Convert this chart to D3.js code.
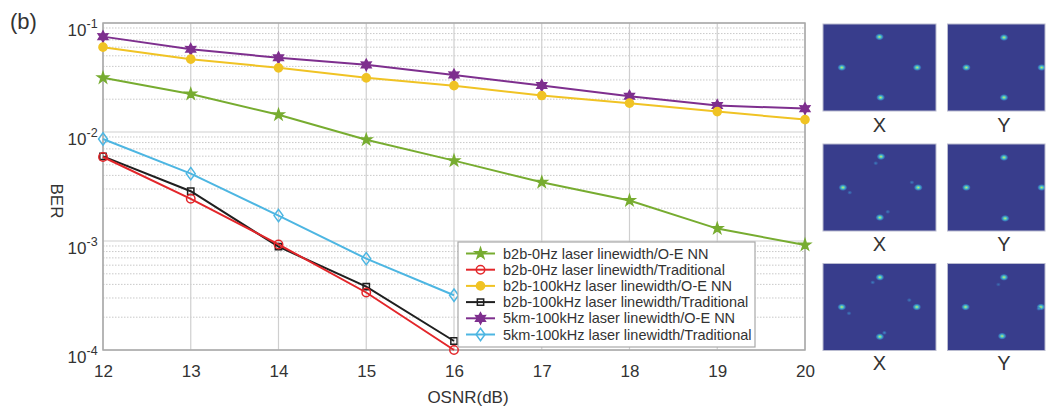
<!DOCTYPE html>
<html>
<head>
<meta charset="utf-8">
<script src="https://cdn.jsdelivr.net/npm/d3@7"></script>
<style>
  body { margin: 0; background: #fff; }
  svg { display: block; }
  text { font-family: "Liberation Sans", Arial, sans-serif; fill: #333; }
</style>
</head>
<body>
<svg id="chart" width="1051" height="409"></svg>
<script>
// ---- data ----
const osnr = [12, 13, 14, 15, 16, 17, 18, 19, 20];
const osnrTicks = [12, 13, 14, 15, 16, 17, 18, 19, 20];
const berTicks = [1e-1, 1e-2, 1e-3, 1e-4];
const berExponents = ["-1", "-2", "-3", "-4"];

const b2b0HzOENN      = [0.0314, 0.0223, 0.0144, 0.0085, 0.00546, 0.00346, 0.00235, 0.0013, 0.00092];
const b2b0HzTrad      = [0.0059, 0.00244, 0.00093, 0.000337, 0.0001];
const b2b100kHzOENN   = [0.060, 0.0466, 0.0388, 0.0314, 0.0266, 0.0216, 0.0184, 0.0154, 0.0130];
const b2b100kHzTrad   = [0.00598, 0.00286, 0.000887, 0.000382, 0.000121];
const km5100kHzOENN   = [0.075, 0.0574, 0.048, 0.0413, 0.0334, 0.0267, 0.0213, 0.0175, 0.0164];
const km5100kHzTrad   = [0.00863, 0.00415, 0.00171, 0.000689, 0.000318];

const seriesNames = [
  "b2b-0Hz laser linewidth/O-E NN",
  "b2b-0Hz laser linewidth/Traditional",
  "b2b-100kHz laser linewidth/O-E NN",
  "b2b-100kHz laser linewidth/Traditional",
  "5km-100kHz laser linewidth/O-E NN",
  "5km-100kHz laser linewidth/Traditional"
];
const seriesValues = [b2b0HzOENN, b2b0HzTrad, b2b100kHzOENN, b2b100kHzTrad, km5100kHzOENN, km5100kHzTrad];

// received constellations (I, Q, strength) for X / Y polarisation, three cases
const constRow1X = [[0, 1.02, 1], [-1, 0, 1], [1, 0, 1], [0.03, -1.0, 1]];
const constRow1Y = [[0, 1.0, 1], [-1.0, 0, 1], [1.0, 0, 1], [0, -1.0, 1]];
const constRow2X = [[0.04, 1.03, 1], [-0.1, 0.81, 0.45], [-0.97, 0, 1], [-0.79, -0.17, 0.45],
                    [1.03, 0, 1], [0.86, 0.17, 0.45], [0.01, -1.0, 1], [0.22, -0.81, 0.45]];
const constRow2Y = [[0, 1.0, 1], [-1, 0, 1], [1, 0, 1], [0.03, -1.03, 1]];
const constRow3X = [[0.01, 0.99, 1], [-0.18, 0.82, 0.45], [-1.0, 0, 1], [-0.81, -0.21, 0.45],
                    [0.99, 0, 1], [0.79, 0.23, 0.45], [0.01, -0.99, 1], [0.13, -0.86, 0.6]];
const constRow3Y = [[0, 0.99, 1], [-0.15, 0.75, 0.3], [-1.02, 0, 1], [0.98, 0, 1],
                    [0.92, -0.06, 0.5], [-0.05, -0.97, 1]];
const constPanels = [constRow1X, constRow1Y, constRow2X, constRow2Y, constRow3X, constRow3Y];
const constLabels = ["X", "Y", "X", "Y", "X", "Y"];

// ---- styles ----
const colors = ["#77ac30", "#e3262a", "#f0c324", "#1f1f1f", "#7e2f8e", "#4db6e2"];
const markerKinds = ["star5", "circleOpen", "circleFill", "squareOpen", "star6", "diamondOpen"];

const svg = d3.select("#chart");

const plotL = 103, plotR = 805, plotT = 23, plotB = 350;
const x = d3.scaleLinear().domain([12, 20]).range([plotL, plotR]);
const y = d3.scaleLog().domain([1e-4, 1e-1]).range([plotB, plotT]);

// grid
const grid = svg.append("g");
const minorVals = [];
[1e-4, 1e-3, 1e-2].forEach(d => { for (let k = 2; k <= 9; k++) minorVals.push(d * k); });
grid.selectAll("line.minor").data(minorVals).enter().append("line")
  .attr("x1", plotL).attr("x2", plotR)
  .attr("y1", d => y(d)).attr("y2", d => y(d))
  .attr("stroke", "#c9c9c9").attr("stroke-width", 1).attr("stroke-dasharray", "1.5,1.5");
grid.selectAll("line.hmaj").data(berTicks).enter().append("line")
  .attr("x1", plotL).attr("x2", plotR)
  .attr("y1", d => y(d)).attr("y2", d => y(d))
  .attr("stroke", "#cfcfcf").attr("stroke-width", 1.2);
grid.selectAll("line.vmaj").data(osnrTicks).enter().append("line")
  .attr("x1", d => x(d)).attr("x2", d => x(d))
  .attr("y1", plotT).attr("y2", plotB)
  .attr("stroke", "#cfcfcf").attr("stroke-width", 1.2);

// frame
svg.append("rect").attr("x", plotL).attr("y", plotT).attr("width", plotR - plotL).attr("height", plotB - plotT)
  .attr("fill", "none").attr("stroke", "#a8a8a8").attr("stroke-width", 1.5);

// axes
const xAxis = svg.append("g").attr("transform", `translate(0,${plotB})`)
  .call(d3.axisBottom(x).tickValues(osnrTicks).tickFormat(d3.format("d")).tickSize(0).tickPadding(10));
xAxis.select(".domain").remove();
xAxis.selectAll("text").attr("font-size", 17).attr("fill", "#333").attr("dy", null).attr("y", 27);

const yAxis = svg.append("g").attr("transform", `translate(${plotL},0)`)
  .call(d3.axisLeft(y).tickValues(berTicks).tickSize(0));
yAxis.select(".domain").remove();
yAxis.selectAll(".tick").each(function(d, i) {
  const g = d3.select(this);
  g.select("text").text("10").attr("x", -16.5).attr("y", 12.5).attr("dy", null)
    .attr("text-anchor", "end").attr("font-size", 17).attr("fill", "#333");
  g.append("text").text(berExponents[i]).attr("x", -16.5).attr("y", 4)
    .attr("text-anchor", "start").attr("font-size", 12.5).attr("fill", "#333")
    .attr("font-family", "Liberation Sans, Arial, sans-serif");
});

svg.append("text").attr("x", 468).attr("y", 403).attr("text-anchor", "middle")
  .attr("font-size", 17).text("OSNR(dB)");
svg.append("text").attr("transform", "translate(51,201) rotate(90)").attr("text-anchor", "middle")
  .attr("font-size", 17).text("BER");
svg.append("text").attr("x", 10).attr("y", 29).attr("font-size", 22).attr("fill", "#222").text("(b)");

// marker shapes
const hexagram = {
  draw(ctx, size) {
    const r = Math.sqrt(size) * 0.62, ri = r * 0.55;
    for (let k = 0; k < 12; k++) {
      const a = -Math.PI / 2 + k * Math.PI / 6;
      const rr = k % 2 ? ri : r;
      k ? ctx.lineTo(rr * Math.cos(a), rr * Math.sin(a)) : ctx.moveTo(rr * Math.cos(a), rr * Math.sin(a));
    }
    ctx.closePath();
  }
};
const tallDiamond = {
  draw(ctx, size) {
    const h = Math.sqrt(size) * 0.62, w = h * 0.72;
    ctx.moveTo(0, -h); ctx.lineTo(w, 0); ctx.lineTo(0, h); ctx.lineTo(-w, 0); ctx.closePath();
  }
};
function drawMarker(sel, kind, color) {
  let type, size, filled;
  switch (kind) {
    case "star5": type = d3.symbolStar; size = 36; filled = true; break;
    case "circleOpen": type = d3.symbolCircle; size = 56; filled = false; break;
    case "circleFill": type = d3.symbolCircle; size = 52; filled = true; break;
    case "squareOpen": type = d3.symbolSquare; size = 40; filled = false; break;
    case "star6": type = hexagram; size = 80; filled = true; break;
    case "diamondOpen": type = tallDiamond; size = 100; filled = false; break;
  }
  sel.attr("d", d3.symbol().type(type).size(size))
    .attr("fill", filled ? color : "none")
    .attr("stroke", color).attr("stroke-width", 1.5);
}

// series
const line = d3.line().x((d, i) => x(osnr[i])).y(d => y(d));
const plot = svg.append("g");
// lower series drawn last so they sit on top where they cross
const order = [4, 2, 0, 5, 3, 1];
order.forEach(s => {
  const g = plot.append("g");
  g.append("path").datum(seriesValues[s]).attr("d", line)
    .attr("fill", "none").attr("stroke", colors[s]).attr("stroke-width", 2);
  g.selectAll("path.m").data(seriesValues[s]).enter().append("path")
    .attr("transform", (d, i) => `translate(${x(osnr[i])},${y(d)})`)
    .call(drawMarker, markerKinds[s], colors[s]);
});

// legend
const lg = svg.append("g");
lg.append("rect").attr("x", 458).attr("y", 242).attr("width", 297).attr("height", 105)
  .attr("fill", "#fff").attr("stroke", "#a8a8a8").attr("stroke-width", 1.2);
seriesNames.forEach((name, s) => {
  const yy = 253.5 + s * 16.2;
  lg.append("line").attr("x1", 466).attr("x2", 495).attr("y1", yy).attr("y2", yy)
    .attr("stroke", colors[s]).attr("stroke-width", 2);
  lg.append("path").attr("transform", `translate(480.5,${yy})`).call(drawMarker, markerKinds[s], colors[s]);
  lg.append("text").attr("x", 503).attr("y", yy + 5).attr("font-size", 14.5).attr("fill", "#222").text(name);
});

// constellation panels
const defs = svg.append("defs");
const grad = defs.append("radialGradient").attr("id", "spot");
grad.append("stop").attr("offset", "0%").attr("stop-color", "#d6e85a");
grad.append("stop").attr("offset", "35%").attr("stop-color", "#49c6c6");
grad.append("stop").attr("offset", "70%").attr("stop-color", "#3a86c8").attr("stop-opacity", 0.7);
grad.append("stop").attr("offset", "100%").attr("stop-color", "#383d8c").attr("stop-opacity", 0);
const grad2 = defs.append("radialGradient").attr("id", "spotWeak");
grad2.append("stop").attr("offset", "0%").attr("stop-color", "#3fa6d8");
grad2.append("stop").attr("offset", "60%").attr("stop-color", "#3a70b8").attr("stop-opacity", 0.7);
grad2.append("stop").attr("offset", "100%").attr("stop-color", "#383d8c").attr("stop-opacity", 0);

const panelW = 113, panelH = 87;
const colX = [823, 947.5];
const rowY = [24, 144, 263.5];
const labelY = [132, 251, 370];
const clipRight = 1045;

constPanels.forEach((pts, p) => {
  const c = p % 2, r = Math.floor(p / 2);
  const x0 = colX[c], y0 = rowY[r];
  const w = Math.min(panelW, clipRight - x0);
  const cx = d3.scaleLinear().domain([-1.5, 1.5]).range([x0, x0 + panelW]);
  const cy = d3.scaleLinear().domain([-1.45, 1.45]).range([y0 + panelH, y0]);
  const clipId = "clip" + p;
  defs.append("clipPath").attr("id", clipId).append("rect")
    .attr("x", x0).attr("y", y0).attr("width", w).attr("height", panelH);
  const g = svg.append("g").attr("clip-path", `url(#${clipId})`);
  g.append("rect").attr("x", x0).attr("y", y0).attr("width", w).attr("height", panelH)
    .attr("fill", "#383d8c");
  g.selectAll("ellipse").data(pts).enter().append("ellipse")
    .attr("cx", d => cx(d[0])).attr("cy", d => cy(d[1]))
    .attr("rx", d => d[2] > 0.8 ? 4.8 : 2.8).attr("ry", d => d[2] > 0.8 ? 3.8 : 2.4)
    .attr("fill", d => d[2] > 0.8 ? "url(#spot)" : "url(#spotWeak)")
    .attr("opacity", d => Math.min(1, d[2] + 0.2));
  svg.append("rect").attr("x", x0).attr("y", y0).attr("width", w).attr("height", panelH)
    .attr("fill", "none").attr("stroke", "#b9bbd0").attr("stroke-width", 1);
  svg.append("text").attr("x", cx(0)).attr("y", labelY[r]).attr("text-anchor", "middle")
    .attr("font-size", 20).attr("fill", "#333").text(constLabels[p]);
});
</script>
</body>
</html>
